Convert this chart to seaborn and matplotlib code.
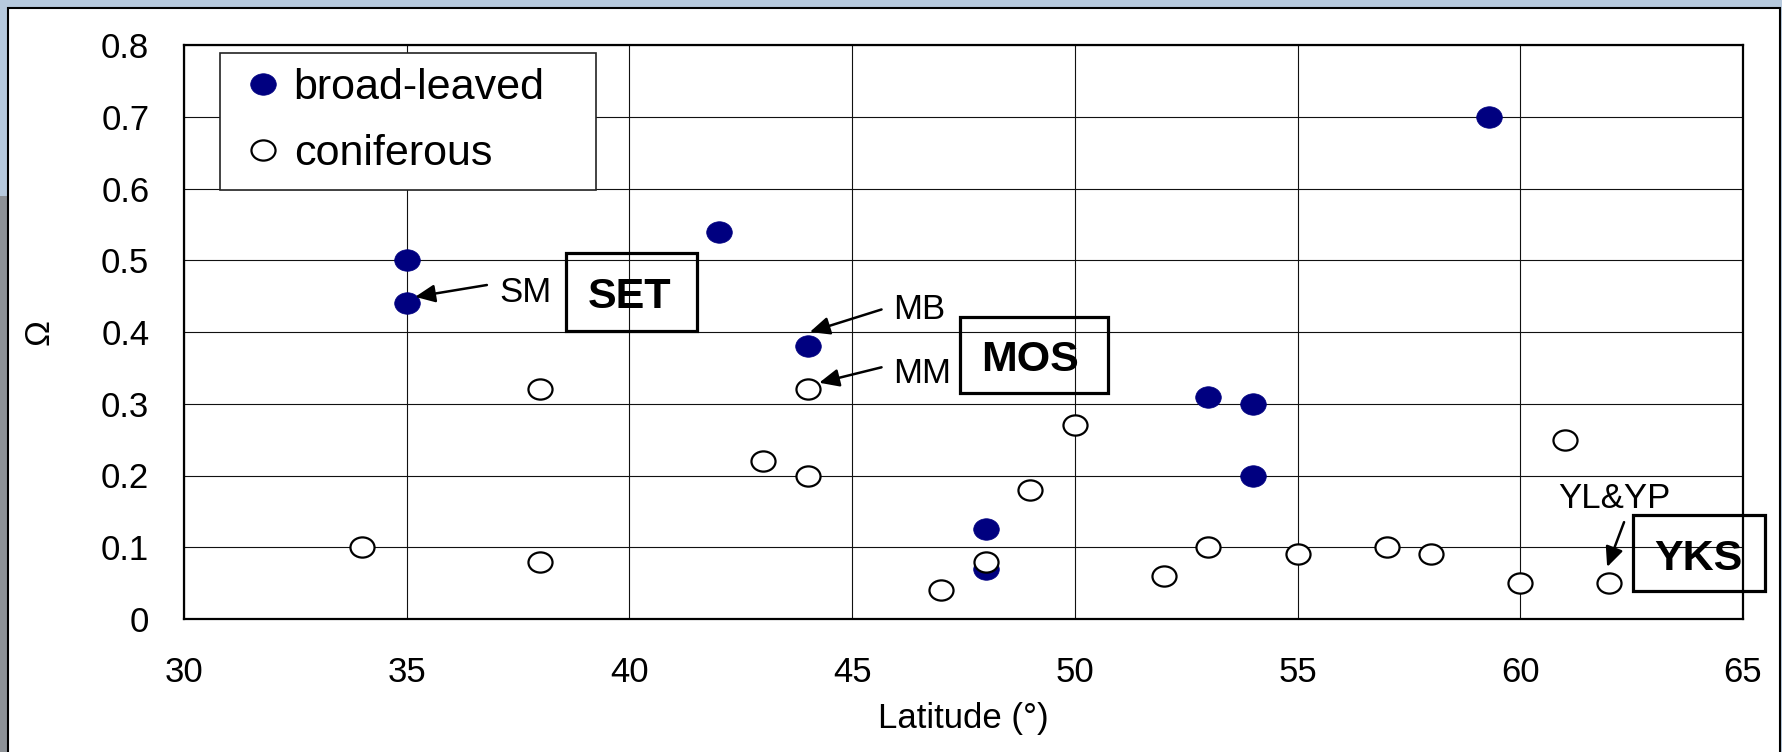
import numpy as np
import pandas as pd
import matplotlib
matplotlib.use("Agg")
import matplotlib.pyplot as plt
import seaborn as sns
from matplotlib.path import Path
from matplotlib.transforms import Affine2D
from matplotlib.patches import Rectangle

# ---------------- data ----------------
broad_lat = [35, 35, 42, 44, 48, 48, 53, 54, 54, 59.3]
broad_omega = [0.50, 0.44, 0.54, 0.38, 0.125, 0.07, 0.31, 0.30, 0.20, 0.70]
conif_lat = [34, 38, 38, 43, 44, 44, 47, 48, 49, 50, 52, 53, 55, 57, 58, 60, 61, 62]
conif_omega = [0.10, 0.32, 0.08, 0.22, 0.32, 0.20, 0.04, 0.08, 0.18, 0.27,
               0.06, 0.10, 0.09, 0.10, 0.09, 0.05, 0.25, 0.05]
series_labels = ["broad-leaved", "coniferous"]
x_ticks = [30, 35, 40, 45, 50, 55, 60, 65]
y_ticks = [0, 0.1, 0.2, 0.3, 0.4, 0.5, 0.6, 0.7, 0.8]
y_tick_labels = ["0", "0.1", "0.2", "0.3", "0.4", "0.5", "0.6", "0.7", "0.8"]
x_label = "Latitude (°)"
y_label = "Ω"

df_broad = pd.DataFrame({"lat": broad_lat, "omega": broad_omega})
df_conif = pd.DataFrame({"lat": conif_lat, "omega": conif_omega})

# ---------------- style ----------------
sns.set_style("white")
plt.rcParams["font.family"] = ["Liberation Sans", "DejaVu Sans"]
plt.rcParams["text.color"] = "black"
plt.rcParams["axes.labelcolor"] = "black"
plt.rcParams["xtick.color"] = "black"
plt.rcParams["ytick.color"] = "black"

fig = plt.figure(figsize=(17.82, 7.52), dpi=100, facecolor="#b6c9dd")
# photo-like strip at left and white panel
fig.add_artist(Rectangle((0, 0), 8 / 1782, 0.74, transform=fig.transFigure,
                         facecolor="#8d9196", edgecolor="none", zorder=-2))
fig.add_artist(Rectangle((8 / 1782, -0.02), 1772 / 1782, 1.02 - 8 / 752,
                         transform=fig.transFigure, facecolor="white",
                         edgecolor="black", linewidth=1.5, zorder=-1))

ax = fig.add_axes([184 / 1782, 1 - 619 / 752, 1559 / 1782, 574 / 752])
ax.set_facecolor("white")

# elliptical marker (wider than tall)
ell = Path.unit_circle().transformed(Affine2D().scale(1.19, 1.0))

sns.scatterplot(data=df_broad, x="lat", y="omega", ax=ax, marker=ell, s=340,
                color="#000080", edgecolor="#000080", linewidth=0.5,
                label=series_labels[0], zorder=3)
sns.scatterplot(data=df_conif, x="lat", y="omega", ax=ax, marker=ell, s=300,
                facecolor="white", edgecolor="black", linewidth=1.6,
                label=series_labels[1], zorder=3)

ax.set_xlim(30, 65)
ax.set_ylim(0, 0.8)
ax.set_xticks(x_ticks)
ax.set_xticklabels([str(t) for t in x_ticks])
ax.set_yticks(y_ticks)
ax.set_yticklabels(y_tick_labels)
ax.tick_params(axis="x", length=0, pad=27, labelsize=25, colors="black")
ax.tick_params(axis="y", length=0, pad=25, labelsize=25, colors="black")
ax.grid(True, color="#111111", linewidth=0.8)
ax.set_axisbelow(True)
for sp in ax.spines.values():
    sp.set_visible(True)
    sp.set_color("black")
    sp.set_linewidth(1.6)

ax.set_xlabel(x_label, fontsize=25, color="black")
ax.xaxis.set_label_coords(0.5, -0.1446)
ax.set_ylabel(y_label, fontsize=25, color="black", va="center")
ax.yaxis.set_label_coords(-0.093, 0.5)

leg = ax.legend(loc="upper left", bbox_to_anchor=(0.0231, 0.5, 0.2412, 0.4861),
                mode="expand", borderaxespad=0, fontsize=31, frameon=True,
                fancybox=False, framealpha=1, edgecolor="#222222",
                handlelength=1.3, handletextpad=0.05, borderpad=0.36,
                labelspacing=0.6, scatteryoffsets=[0.5])
leg.get_frame().set_linewidth(1.2)
leg.set_zorder(5)
for t in leg.get_texts():
    t.set_color("black")

# ---------------- annotations ----------------
arrow_kw = dict(arrowstyle="-|>,head_length=0.6,head_width=0.27",
                color="black", lw=1.8, mutation_scale=20,
                shrinkA=0, shrinkB=0)
ax.annotate("", xy=(35.19, 0.449), xytext=(36.80, 0.4655), arrowprops=arrow_kw, zorder=4)
ax.annotate("", xy=(44.05, 0.400), xytext=(45.66, 0.4314), arrowprops=arrow_kw, zorder=4)
ax.annotate("", xy=(44.26, 0.3293), xytext=(45.66, 0.3508), arrowprops=arrow_kw, zorder=4)
ax.annotate("", xy=(61.95, 0.0725), xytext=(62.33, 0.135), arrowprops=arrow_kw,
            zorder=4, annotation_clip=False)

ax.text(37.66, 0.4418, "SM", fontsize=25, ha="center", va="baseline", color="black")
ax.text(46.50, 0.4181, "MB", fontsize=25, ha="center", va="baseline", color="black")
ax.text(46.57, 0.3289, "MM", fontsize=25, ha="center", va="baseline", color="black")
ax.text(62.11, 0.1547, "YL&YP", fontsize=25, ha="center", va="baseline", color="black")

box_kw = dict(facecolor="none", edgecolor="black", linewidth=2.3, zorder=4, clip_on=False)
ax.add_patch(Rectangle((38.58, 0.401), 41.52 - 38.58, 0.510 - 0.401, **box_kw))
ax.add_patch(Rectangle((47.42, 0.315), 50.75 - 47.42, 0.421 - 0.315, **box_kw))
ax.add_patch(Rectangle((62.53, 0.039), 65.49 - 62.53, 0.145 - 0.039, **box_kw))
ax.text(40.01, 0.4334, "SET", fontsize=31, fontweight="bold", ha="center",
        va="baseline", color="black")
ax.text(49.00, 0.3461, "MOS", fontsize=31, fontweight="bold", ha="center",
        va="baseline", color="black")
ax.text(64.01, 0.0683, "YKS", fontsize=31, fontweight="bold", ha="center",
        va="baseline", color="black", clip_on=False)

fig.savefig("out.png", dpi=100, facecolor=fig.get_facecolor())
